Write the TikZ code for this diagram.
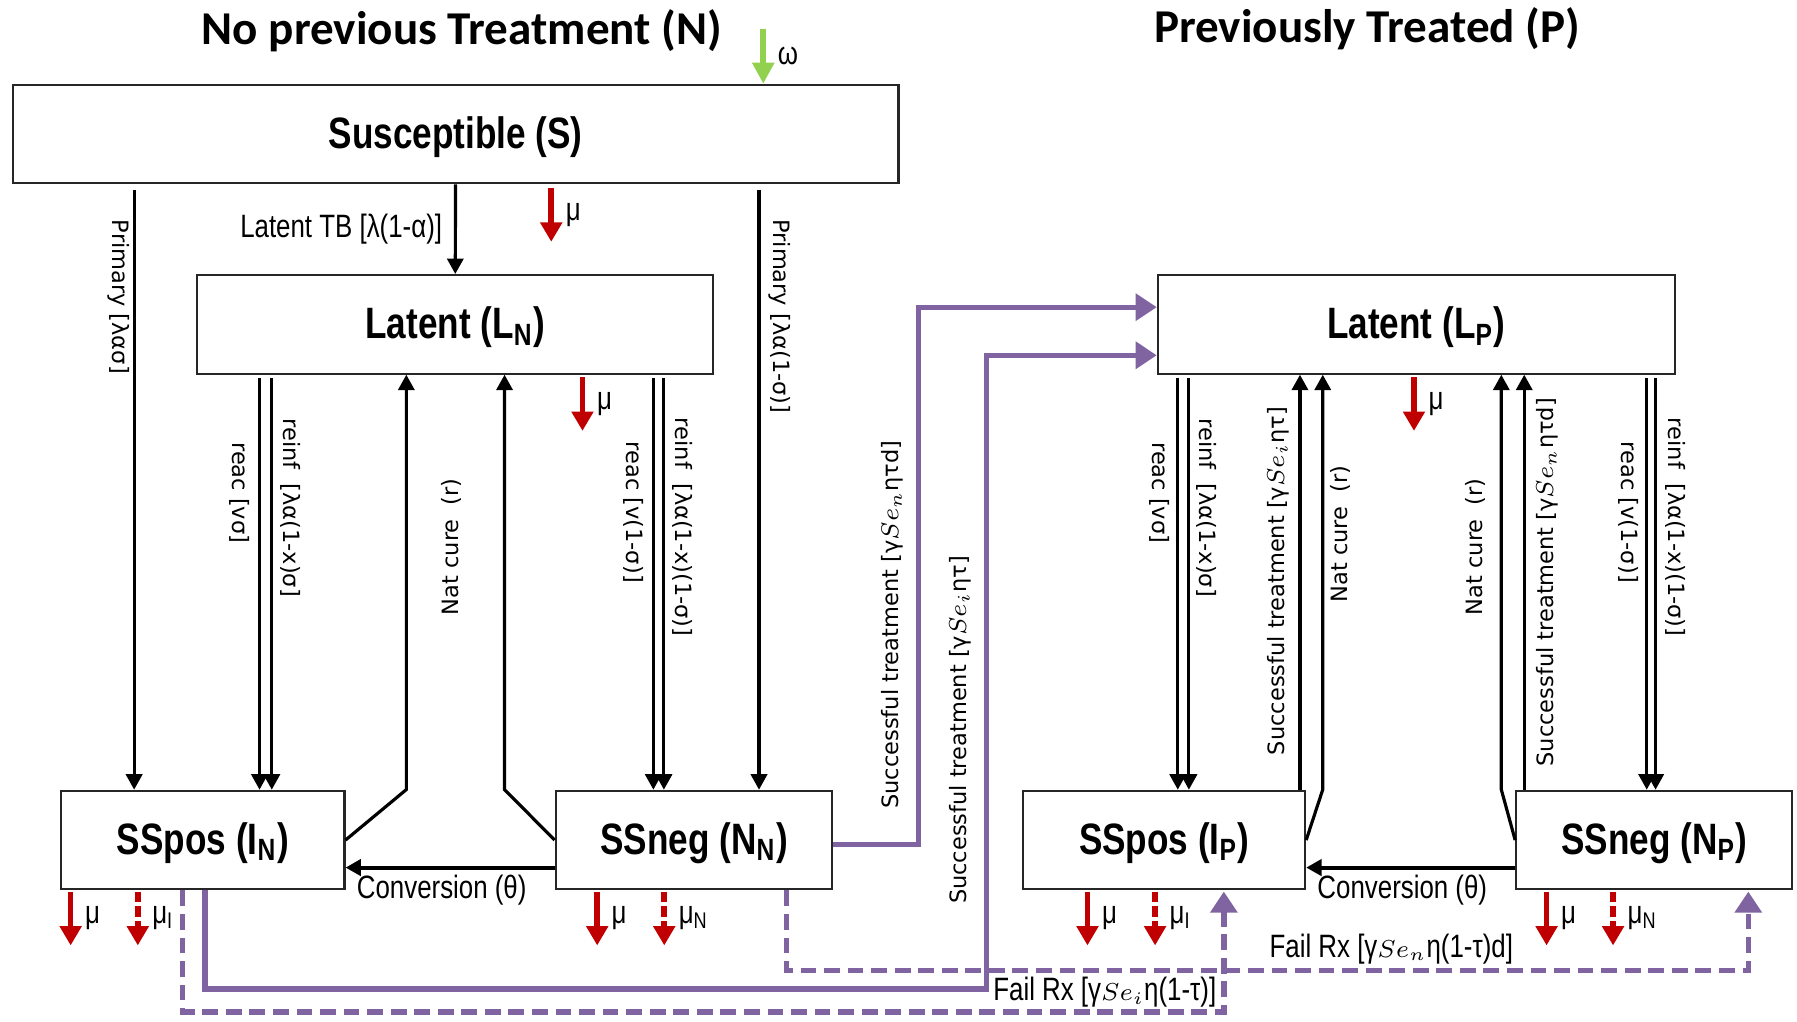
\documentclass[tikz,border=0pt]{standalone}
\usepackage{fontspec}
\setmainfont{Liberation Sans}
\newfontfamily\titlefont{Carlito}
\newfontfamily\narrowfont{Liberation Sans}[FakeStretch=0.8]
\newfontfamily\vfont{DejaVu Sans}
\usetikzlibrary{arrows.meta,calc}

\definecolor{deathred}{HTML}{C00000}
\definecolor{birthgreen}{HTML}{92D050}
\definecolor{rxpurple}{HTML}{8064A2}

\newcommand{\smallmath}[1]{{\fontsize{6.8}{9}\selectfont$#1$}}

\tikzset{
  titletext/.style={font=\titlefont\bfseries\fontsize{13.4}{16}\selectfont},
  compartment/.style={draw=black!85, line width=0.6pt, inner sep=0pt, minimum height=0.986cm,
    text height=1.0em, text depth=0.2em,
    font=\narrowfont\bfseries\fontsize{12.5}{14}\selectfont},
  lbl/.style={font=\narrowfont\fontsize{9.2}{10}\selectfont},
  vlbl/.style={font=\vfont\fontsize{6.4}{8}\selectfont, inner sep=0pt},
  flow/.style={-{Triangle[width=4.6pt,length=4.4pt]}, line width=0.9pt},
  death/.style={-{Triangle[width=6pt,length=5.5pt]}, line width=1.6pt, draw=deathred},
  deathdash/.style={death, dash pattern=on 3pt off 1.2pt},
  birth/.style={-{Triangle[width=6pt,length=6pt]}, line width=1.6pt, draw=birthgreen},
  rx/.style={-{Triangle[width=7.5pt,length=6pt]}, line width=1.5pt, draw=rxpurple},
  rxfail/.style={rx, dash pattern=on 4.5pt off 2.2pt}
}

\begin{document}
\begin{tikzpicture}[x=0.011461cm, y=-0.011461cm]
\useasboundingbox (0,0) rectangle (1568,891);

% headings
\node[titletext] (titleN) at (403,27) {No previous Treatment (N)};
\node[titletext] (titleP) at (1193,25) {Previously Treated (P)};

% compartments
\node[compartment, minimum width=8.859cm] (S) at (397.5,117) {Susceptible (S)};
\node[compartment, minimum width=5.163cm] (LN) at (397.25,283) {Latent (L\textsubscript{N})};
\node[compartment, minimum width=2.831cm] (IN) at (177.05,733) {SSpos (I\textsubscript{N})};
\node[compartment, minimum width=2.767cm] (NN) at (605.6,733) {SSneg (N\textsubscript{N})};
\node[compartment, minimum width=5.169cm] (LP) at (1235.8,283) {Latent (L\textsubscript{P})};
\node[compartment, minimum width=2.817cm] (IP) at (1015.9,733) {SSpos (I\textsubscript{P})};
\node[compartment, minimum width=2.762cm] (NP) at (1443.5,733) {SSneg (N\textsubscript{P})};

% births
\coordinate (inflow) at (666,25);
\draw[birth] (inflow) -- node[right, lbl] (lomega) {ω} (inflow |- S.north);

% infection from S
\draw[flow] (S.south) -- node[left, lbl] (lTB) {Latent TB [λ(1-α)]} (LN.north);
\coordinate (prA) at ($(IN.north)+(-60,0)$);
\coordinate (prB) at ($(NN.north)+(56.7,0)$);
\draw[flow, shorten <=1.5pt] (prA |- S.south) -- (prA);
\draw[flow, shorten <=1.5pt] (prB |- S.south) -- (prB);
\node[vlbl, rotate=-90] (lprA) at (103.5,259) {Primary [λασ]};
\node[vlbl, rotate=-90] (lprB) at (680,276) {Primary [λα(1-σ)]};

% L_N to I_N and N_N
\coordinate (reN1) at ($(IN.north)+(49.4,0)$);
\coordinate (riN1) at ($(IN.north)+(60.1,0)$);
\coordinate (reN2) at ($(NN.north)+(-35.5,0)$);
\coordinate (riN2) at ($(NN.north)+(-26.3,0)$);
\draw[flow, shorten <=1pt] (reN1 |- LN.south) -- (reN1);
\draw[flow, shorten <=1pt] (riN1 |- LN.south) -- (riN1);
\draw[flow, shorten <=1pt] (reN2 |- LN.south) -- (reN2);
\draw[flow, shorten <=1pt] (riN2 |- LN.south) -- (riN2);
\node[vlbl, rotate=-90] (lreN1) at (208.7,430) {reac [vσ]};
\node[vlbl, rotate=-90] (lriN1) at (253.8,443) {reinf\ \ [λα(1-x)σ]};
\node[vlbl, rotate=-90] (lreN2) at (553,447) {reac [v(1-σ)]};
\node[vlbl, rotate=-90] (lriN2) at (596,460) {reinf\ \ [λα(1-x)(1-σ)]};

% natural cure, no previous treatment
\coordinate (cuN1) at ($(LN.south)+(-42.7,362)$);
\coordinate (cuN2) at ($(LN.south)+(43,362)$);
\draw[flow] (IN.east) -- (cuN1) -- (cuN1 |- LN.south);
\draw[flow] (NN.west) -- (cuN2) -- (cuN2 |- LN.south);
\node[vlbl, rotate=90] (lcuN1) at (394,477) {Nat cure\ \ (r)};

% conversion
\draw[flow, line width=1.1pt] ($(NN.west)+(0,24)$) -- node[pos=0.54, below, lbl, inner sep=1.5pt] (lconvN) {Conversion (θ)} ($(IN.east)+(0,24)$);
\draw[flow, line width=1.1pt] ($(NP.west)+(0,24)$) -- node[pos=0.54, below, lbl, inner sep=1.5pt] (lconvP) {Conversion (θ)} ($(IP.east)+(0,24)$);

% L_P to I_P and N_P
\coordinate (reP1) at ($(IP.north)+(11.8,0)$);
\coordinate (riP1) at ($(IP.north)+(21.5,0)$);
\coordinate (reP2) at ($(NP.north)+(-6.6,0)$);
\coordinate (riP2) at ($(NP.north)+(1.1,0)$);
\draw[flow, shorten <=1pt] (reP1 |- LP.south) -- (reP1);
\draw[flow, shorten <=1pt] (riP1 |- LP.south) -- (riP1);
\draw[flow, shorten <=1pt] (reP2 |- LP.south) -- (reP2);
\draw[flow, shorten <=1pt] (riP2 |- LP.south) -- (riP2);
\node[vlbl, rotate=-90] (lreP1) at (1012,430) {reac [vσ]};
\node[vlbl, rotate=-90] (lriP1) at (1053,443) {reinf\ \ [λα(1-x)σ]};
\node[vlbl, rotate=-90] (lreP2) at (1421.4,447) {reac [v(1-σ)]};
\node[vlbl, rotate=-90] (lriP2) at (1462,460) {reinf\ \ [λα(1-x)(1-σ)]};

% treatment and cure back to L_P
\coordinate (suP1) at ($(IP.north)+(118.4,0)$);
\coordinate (suP2) at ($(NP.north)+(-113.5,0)$);
\coordinate (cuP1) at ($(LP.south)+(-81.6,362)$);
\coordinate (cuP2) at ($(LP.south)+(74.2,362)$);
\draw[flow] (suP1) -- (suP1 |- LP.south);
\draw[flow] (suP2) -- (suP2 |- LP.south);
\draw[flow] (IP.east) -- (cuP1) -- (cuP1 |- LP.south);
\draw[flow] (NP.west) -- (cuP2) -- (cuP2 |- LP.south);
\node[vlbl, rotate=90] (lsuP1) at (1115,507) {Successful treatment [γ\smallmath{Se_i}ητ]};
\node[vlbl, rotate=90] (lcuP1) at (1169.5,466) {Nat cure\ \ (r)};
\node[vlbl, rotate=90] (lcuP2) at (1287.7,477) {Nat cure\ \ (r)};
\node[vlbl, rotate=90] (lsuP2) at (1349.7,508) {Successful treatment [γ\smallmath{Se_n}ητd]};

% treatment from N to P
\draw[rx] ($(NN.east)+(0,4)$) -| ($(LP.west)+(-207.6,-15)$) -- ($(LP.west)+(0,-15)$);
\draw[rx] ($(IN.south)+(1.8,0)$) |- ($(LP.west)+(-148.6,580)$) |- ($(LP.west)+(0,27)$);
\node[vlbl, rotate=90] (lsuN1) at (778.4,545) {Successful treatment [γ\smallmath{Se_n}ητd]};
\node[vlbl, rotate=90] (lsuN2) at (837.5,637) {Successful treatment [γ\smallmath{Se_i}ητ]};
\draw[rxfail] ($(NN.south)+(80.7,0)$) |- ($(NP.south)+(82,70)$) -- ($(NP.south)+(82,1)$);
\draw[rxfail] ($(IN.south)+(-17.8,0)$) |- ($(IP.south)+(52,106)$) -- ($(IP.south)+(52,1)$);
\node[lbl] (lfailN) at (1214,828) {Fail Rx [γ\smallmath{Se_n}η(1-τ)d]};
\node[lbl] (lfailI) at (964,866) {Fail Rx [γ\smallmath{Se_i}η(1-τ)]};

% deaths
\draw[death] ($(S.south)+(83.5,3)$) -- node[right, lbl] (lmuS) {μ} ++(0,47);
\draw[death] ($(LN.south)+(111,2)$) -- node[right, lbl] (lmuLN) {μ} ++(0,47);
\draw[death] ($(LP.south)+(-2,2)$) -- node[right, lbl] (lmuLP) {μ} ++(0,47);
\draw[death] ($(IN.south)+(-115.4,1)$) -- node[right, lbl] (lmuIN) {μ} ++(0,47);
\draw[deathdash] ($(IN.south)+(-56.8,1)$) -- node[right, lbl] (lmuIIN) {μ\textsubscript{I}} ++(0,47);
\draw[death] ($(NN.south)+(-84.5,1)$) -- node[right, lbl] (lmuNN) {μ} ++(0,47);
\draw[deathdash] ($(NN.south)+(-26,1)$) -- node[right, lbl] (lmuNNN) {μ\textsubscript{N}} ++(0,47);
\draw[death] ($(IP.south)+(-67,1)$) -- node[right, lbl] (lmuIP) {μ} ++(0,47);
\draw[deathdash] ($(IP.south)+(-8,1)$) -- node[right, lbl] (lmuIIP) {μ\textsubscript{I}} ++(0,47);
\draw[death] ($(NP.south)+(-94,1)$) -- node[right, lbl] (lmuNP) {μ} ++(0,47);
\draw[deathdash] ($(NP.south)+(-36,1)$) -- node[right, lbl] (lmuNNP) {μ\textsubscript{N}} ++(0,47);
\end{tikzpicture}
\end{document}
